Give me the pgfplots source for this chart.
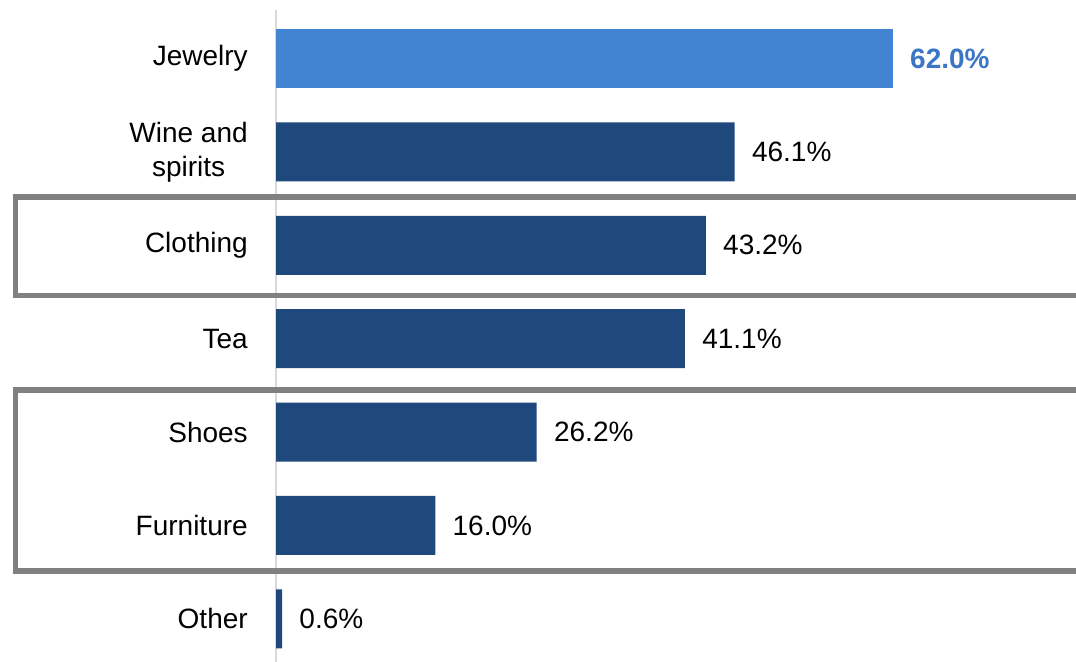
\documentclass[border=0pt]{standalone}
\usepackage{fontspec}
\setmainfont{Liberation Sans}
\usepackage{pgfplots}
\pgfplotsset{compat=1.18}
\definecolor{darkbar}{HTML}{1F497D}
\definecolor{lightbar}{HTML}{4384D2}
\definecolor{lightlab}{HTML}{3B76C6}
\definecolor{boxgray}{HTML}{808080}
\definecolor{axgray}{HTML}{D9D9D9}
\begin{document}
\begin{tikzpicture}
\begin{axis}[
  scale only axis,
  width=538pt, height=331pt,
  xmin=-27.74, xmax=80.4,
  ymin=-0.627, ymax=6.46,
  y dir=reverse,
  axis line style={draw=none},
  xtick=\empty,
  ytick={0,1,2,3,4,5,6},
  yticklabels={Jewelry,{Wine and\\spirits},Clothing,Tea,Shoes,Furniture,Other},
  major tick length=0pt,
  yticklabel style={font=\fontsize{14}{17}\selectfont, align=center, anchor=east, xshift=124pt, inner sep=0pt, text=black},
  xbar, bar width=0.632, bar shift=0pt,
  /pgf/number format/assume math mode=true,
  nodes near coords={\pgfmathprintnumber[fixed,fixed zerofill,precision=1,assume math mode=true]{\pgfplotspointmeta}\%},
  nodes near coords style={font=\fontsize{14}{17}\selectfont, anchor=west, xshift=8.5pt, inner sep=0pt, text=black},
  point meta=x,
]
\path (rel axis cs:0,0) rectangle (rel axis cs:1,1);
\draw[axgray, line width=1pt] (axis cs:0,-0.52) -- (axis cs:0,6.46);
\addplot[fill=lightbar, draw=none, nodes near coords style={text=lightlab, font=\fontsize{14}{17}\selectfont\bfseries}] coordinates {(62.0,0)};
\addplot[fill=darkbar, draw=none] coordinates {(46.1,1) (43.2,2) (41.1,3) (26.2,4) (16.0,5) (0.6,6)};
\draw[boxgray, line width=2.6pt, line join=miter] (axis cs:80.4,1.483) -- (axis cs:-26.2,1.483) -- (axis cs:-26.2,2.537) -- (axis cs:80.4,2.537);
\draw[boxgray, line width=2.6pt, line join=miter] (axis cs:80.4,3.55) -- (axis cs:-26.2,3.55) -- (axis cs:-26.2,5.487) -- (axis cs:80.4,5.487);
\end{axis}
\end{tikzpicture}
\end{document}
